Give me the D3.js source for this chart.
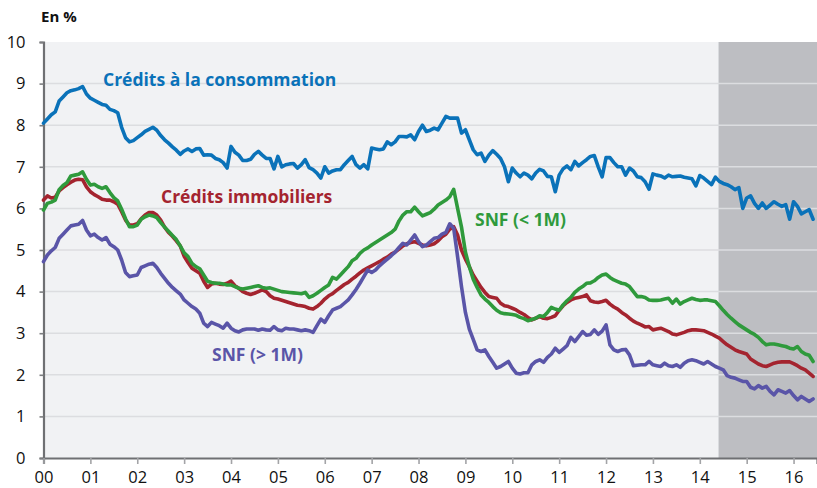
<!DOCTYPE html>
<html><head><meta charset="utf-8">
<script src="https://cdn.jsdelivr.net/npm/d3@7"></script>
<style>html,body{margin:0;padding:0;background:#fff;}svg{display:block;font-family:"Open Sans",Lato,sans-serif;}</style>
</head><body><svg id="c" width="817" height="488"></svg>
<script>
// Monthly data, Jan 2000 .. Jun 2016
const startYear = 2000;
const yTicks = [0,1,2,3,4,5,6,7,8,9,10];
const xTickYears = [2000,2001,2002,2003,2004,2005,2006,2007,2008,2009,2010,2011,2012,2013,2014,2015,2016];
const xTickLabels = ["00","01","02","03","04","05","06","07","08","09","10","11","12","13","14","15","16"];
const shadeStart = 2014.4;
const seriesNames = ["Crédits à la consommation","Crédits immobiliers","SNF (< 1M)","SNF (> 1M)"];

const consommation = [8.05,8.15,8.25,8.32,8.58,8.68,8.78,8.83,8.85,8.88,8.93,8.75,
8.65,8.6,8.55,8.5,8.48,8.38,8.35,8.3,7.95,7.7,7.6,7.63,
7.7,7.77,7.85,7.9,7.95,7.88,7.75,7.65,7.57,7.48,7.4,7.3,
7.38,7.43,7.37,7.43,7.44,7.28,7.29,7.28,7.2,7.17,7.1,6.97,
7.49,7.35,7.28,7.15,7.15,7.18,7.3,7.37,7.28,7.2,7.2,6.95,
7.25,7.0,7.05,7.07,7.08,6.97,7.05,7.17,6.98,6.93,6.85,6.73,
7.0,6.85,6.9,6.93,6.93,7.05,7.15,7.25,7.05,6.97,7.05,6.95,
7.45,7.43,7.41,7.43,7.6,7.53,7.6,7.73,7.73,7.72,7.77,7.65,
7.85,8.0,7.85,7.88,7.93,7.89,8.05,8.21,8.17,8.17,8.17,7.81,
7.89,7.65,7.41,7.29,7.33,7.13,7.28,7.39,7.3,7.2,7.0,6.64,
6.97,6.85,6.76,6.85,6.8,6.71,6.85,6.94,6.9,6.77,6.76,6.4,
6.8,6.95,7.02,6.93,7.13,7.02,7.1,7.17,7.25,7.27,7.0,6.76,
7.22,7.22,7.1,7.0,7.0,6.8,6.97,6.9,6.76,6.74,6.64,6.46,
6.83,6.8,6.78,6.73,6.8,6.76,6.77,6.78,6.75,6.73,6.71,6.54,
6.79,6.73,6.65,6.57,6.75,6.65,6.6,6.57,6.52,6.45,6.5,6.0,
6.25,6.3,6.12,6.0,6.13,6.0,6.08,6.16,6.1,6.05,6.09,5.74,
6.16,6.05,5.87,5.92,5.97,5.74];

const immobiliers = [6.2,6.3,6.25,6.27,6.42,6.5,6.57,6.63,6.68,6.7,6.69,6.52,
6.4,6.33,6.28,6.22,6.2,6.2,6.16,6.1,5.92,5.72,5.6,5.6,
5.63,5.75,5.84,5.9,5.9,5.84,5.72,5.55,5.42,5.33,5.22,5.1,
4.85,4.7,4.56,4.5,4.44,4.25,4.1,4.18,4.2,4.18,4.17,4.2,
4.25,4.14,4.08,4.0,3.96,3.93,3.96,4.0,4.04,4.0,3.9,3.84,
3.82,3.79,3.76,3.73,3.7,3.67,3.66,3.64,3.6,3.58,3.64,3.72,
3.82,3.9,3.95,4.03,4.1,4.17,4.22,4.3,4.37,4.45,4.52,4.57,
4.62,4.67,4.72,4.78,4.83,4.9,4.95,5.02,5.1,5.15,5.18,5.2,
5.16,5.12,5.1,5.12,5.15,5.22,5.32,5.38,5.5,5.56,5.36,5.0,
4.78,4.6,4.4,4.25,4.1,3.98,3.88,3.86,3.84,3.72,3.66,3.64,
3.6,3.56,3.5,3.45,3.38,3.32,3.36,3.4,3.36,3.35,3.38,3.42,
3.55,3.66,3.74,3.8,3.84,3.86,3.88,3.92,3.78,3.75,3.74,3.76,
3.79,3.7,3.63,3.58,3.5,3.44,3.36,3.29,3.24,3.2,3.15,3.16,
3.08,3.1,3.12,3.08,3.04,2.98,2.96,2.99,3.02,3.06,3.08,3.08,
3.07,3.06,3.02,2.98,2.93,2.88,2.8,2.72,2.66,2.6,2.56,2.53,
2.5,2.38,2.32,2.26,2.22,2.2,2.24,2.28,2.3,2.31,2.31,2.31,
2.27,2.22,2.16,2.12,2.04,1.96];

const snfPetits = [5.96,6.12,6.15,6.2,6.45,6.55,6.62,6.78,6.8,6.82,6.88,6.7,
6.56,6.58,6.52,6.48,6.52,6.38,6.26,6.18,5.98,5.75,5.56,5.56,
5.6,5.74,5.8,5.84,5.82,5.78,5.66,5.55,5.45,5.35,5.25,5.1,
4.93,4.84,4.68,4.6,4.55,4.4,4.25,4.22,4.2,4.2,4.18,4.16,
4.16,4.12,4.08,4.06,4.08,4.1,4.12,4.14,4.1,4.08,4.09,4.06,
4.03,4.0,3.99,3.98,3.97,3.96,3.95,3.98,3.86,3.9,3.96,4.03,
4.1,4.16,4.34,4.3,4.4,4.5,4.6,4.74,4.8,4.92,5.0,5.05,
5.12,5.18,5.24,5.3,5.36,5.42,5.5,5.7,5.84,5.92,5.92,6.03,
5.92,5.82,5.86,5.9,5.98,6.08,6.14,6.2,6.28,6.46,6.0,5.55,
4.95,4.6,4.3,4.1,3.92,3.82,3.74,3.64,3.55,3.49,3.47,3.46,
3.45,3.43,3.38,3.35,3.3,3.33,3.36,3.42,3.4,3.5,3.62,3.58,
3.55,3.68,3.78,3.86,3.98,4.06,4.12,4.2,4.21,4.26,4.34,4.4,
4.42,4.34,4.28,4.24,4.2,4.18,4.12,4.0,3.88,3.88,3.86,3.8,
3.79,3.79,3.8,3.82,3.84,3.72,3.82,3.7,3.76,3.8,3.84,3.81,
3.79,3.8,3.8,3.78,3.76,3.66,3.55,3.45,3.36,3.28,3.2,3.14,
3.08,3.02,2.97,2.9,2.8,2.72,2.74,2.74,2.72,2.7,2.68,2.64,
2.62,2.68,2.56,2.5,2.47,2.32];

const snfGrands = [4.72,4.88,4.98,5.06,5.28,5.38,5.48,5.58,5.6,5.62,5.71,5.48,
5.34,5.38,5.3,5.24,5.3,5.14,5.08,5.0,4.76,4.46,4.36,4.38,
4.4,4.58,4.62,4.66,4.68,4.58,4.44,4.32,4.2,4.1,4.02,3.94,
3.8,3.72,3.64,3.58,3.48,3.24,3.16,3.26,3.22,3.18,3.12,3.24,
3.12,3.06,3.03,3.08,3.1,3.1,3.1,3.07,3.1,3.08,3.07,3.16,
3.08,3.06,3.12,3.1,3.1,3.08,3.06,3.08,3.06,3.02,3.18,3.34,
3.26,3.42,3.56,3.6,3.64,3.72,3.8,3.92,4.05,4.2,4.36,4.52,
4.46,4.52,4.62,4.7,4.78,4.86,4.95,5.06,5.16,5.12,5.24,5.36,
5.2,5.08,5.12,5.2,5.28,5.3,5.38,5.42,5.63,5.52,4.84,4.12,
3.5,3.1,2.85,2.6,2.56,2.6,2.44,2.3,2.16,2.2,2.26,2.32,
2.16,2.04,2.02,2.05,2.05,2.24,2.32,2.36,2.3,2.42,2.5,2.64,
2.54,2.62,2.7,2.9,2.8,2.92,3.04,2.95,2.97,3.08,2.97,3.05,
3.2,2.72,2.6,2.56,2.6,2.61,2.48,2.22,2.23,2.24,2.24,2.32,
2.24,2.22,2.2,2.28,2.22,2.2,2.24,2.18,2.28,2.34,2.36,2.34,
2.3,2.26,2.32,2.26,2.2,2.16,2.12,1.98,1.94,1.92,1.88,1.84,
1.84,1.7,1.66,1.74,1.68,1.72,1.6,1.52,1.64,1.6,1.56,1.62,
1.5,1.4,1.48,1.42,1.36,1.42];

const W = 817, H = 488;
const m = {left: 43.5, right: 0, top: 42, bottom: 30};
const svg = d3.select("#c");
const x = d3.scaleLinear().domain([2000, 2016.5]).range([m.left, W]);
const y = d3.scaleLinear().domain([0, 10]).range([H - m.bottom, m.top]);
const y0 = y(0);

// plot background
svg.append("rect").attr("x", x(2000)).attr("y", y(10)).attr("width", x(2016.5) - x(2000)).attr("height", y0 - y(10)).attr("fill", "#f1f2f4");
svg.append("rect").attr("x", x(shadeStart)).attr("y", y(10)).attr("width", x(2016.5) - x(shadeStart)).attr("height", y0 - y(10)).attr("fill", "#bdbec2");

// grid
svg.append("g").selectAll("line").data(yTicks.filter(d => d > 0 && d < 10)).join("line")
  .attr("x1", x(2000)).attr("x2", x(2016.5)).attr("y1", d => y(d)).attr("y2", d => y(d))
  .attr("stroke", "#dcdde0").attr("stroke-width", 1.5);

// axes
const yAxis = svg.append("g").attr("transform", `translate(${x(2000)},0)`)
  .call(d3.axisLeft(y).tickValues(yTicks).tickSize(4).tickPadding(14).tickFormat(d3.format("d")));
const xAxis = svg.append("g").attr("transform", `translate(0,${y0})`)
  .call(d3.axisBottom(x).tickValues(xTickYears).tickSize(6).tickPadding(5).tickFormat((d, i) => xTickLabels[i]));
[yAxis, xAxis].forEach(a => {
  a.select(".domain").attr("stroke", "#6f7073").attr("stroke-width", 2.2);
  a.selectAll(".tick line").attr("stroke", "#7d7e81").attr("stroke-width", 1.6);
  a.selectAll(".tick text").attr("fill", "#111").attr("font-size", 16.5).attr("font-family", "'Open Sans', sans-serif");
});
xAxis.selectAll(".tick line").attr("stroke", "#a3a4a7");
xAxis.selectAll(".tick text").attr("dy", "0.82em");

// lines
const line = d3.line().x((d, i) => x(startYear + i / 12)).y(d => y(d)).curve(d3.curveLinear);
const series = [
  {data: immobiliers, color: "#a4242f"},
  {data: snfPetits, color: "#2f9a3c"},
  {data: snfGrands, color: "#5a55a8"},
  {data: consommation, color: "#0a72b9"}
];
svg.append("g").selectAll("path").data(series).join("path")
  .attr("d", d => line(d.data)).attr("fill", "none").attr("stroke", d => d.color)
  .attr("stroke-width", 3.6).attr("stroke-linejoin", "round").attr("stroke-linecap", "round");

// labels
const labels = [
  {t: seriesNames[0], x: 103, y: 86, c: "#0a72b9"},
  {t: seriesNames[1], x: 161, y: 203, c: "#a4242f"},
  {t: seriesNames[2], x: 475, y: 226, c: "#2f9a3c"},
  {t: seriesNames[3], x: 212, y: 361, c: "#5a55a8"}
];
svg.append("g").selectAll("text").data(labels).join("text")
  .attr("x", d => d.x).attr("y", d => d.y).attr("fill", d => d.c)
  .attr("font-size", 17.5).attr("font-weight", "bold").text(d => d.t);

svg.append("text").attr("x", 41).attr("y", 22).attr("font-size", 15).attr("font-weight", "bold").attr("fill", "#111").text("En %");
</script></body></html>
